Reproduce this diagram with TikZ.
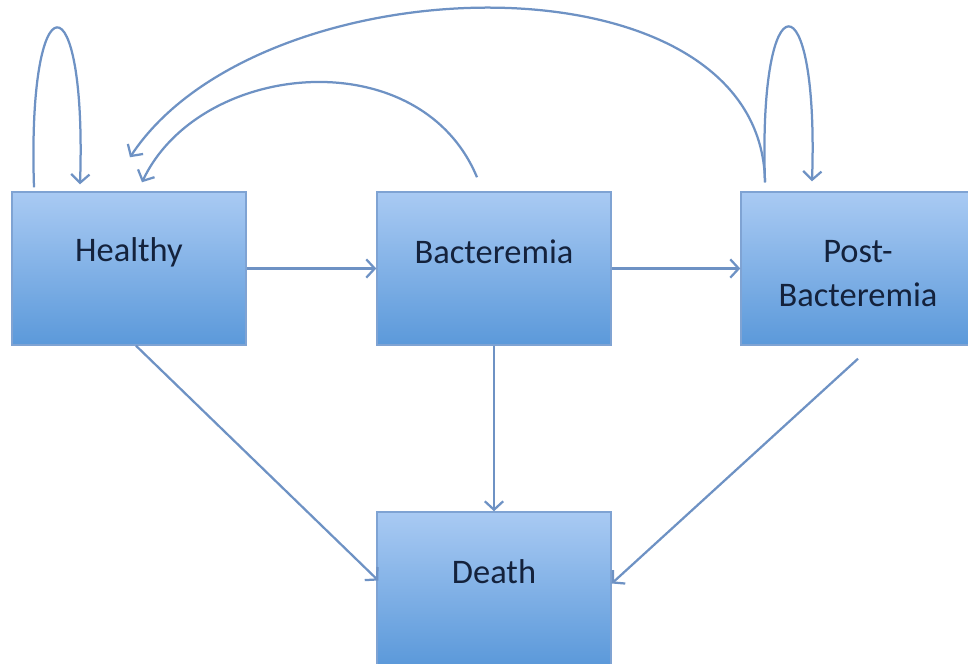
\documentclass[tikz,border=0pt]{standalone}
\usepackage{fontspec}
\setmainfont{Carlito}
\usepackage{xcolor}
\usetikzlibrary{arrows.meta, calc}

\definecolor{boxtop}{HTML}{A9CAF3}
\definecolor{boxbot}{HTML}{5B99DA}
\definecolor{boxline}{HTML}{7FA3D3}
\definecolor{arrowblue}{HTML}{6E92C4}
\definecolor{textnavy}{HTML}{14223C}

\begin{document}
\begin{tikzpicture}[x=0.025cm, y=-0.025cm,
  state/.style={draw=boxline, line width=1pt, top color=boxtop, bottom color=boxbot,
    minimum width=5.85cm, minimum height=3.825cm, inner sep=0pt},
  lbl/.style={font=\fontsize{24.5}{30.6}\selectfont, text=textnavy, align=center},
  link/.style={draw=arrowblue, line width=1.6pt,
    -{Straight Barb[length=6pt, width=13pt, line width=1.6pt]}}]
  \useasboundingbox (0,0) rectangle (968,664);

  % states
  \node[state, label={[lbl, yshift=11.7pt]center:Healthy}] (healthy) at (129,268.5) {};
  \node[state, label={[lbl, yshift=11.7pt]center:Bacteremia}] (bact) at (494,268.5) {};
  \node[state, label={[lbl, yshift=-3.6pt]center:Post-\\Bacteremia}] (post) at (858,268.5) {};
  \node[state, label={[lbl, yshift=11.7pt]center:Death}] (death) at (494,588.5) {};

  % forward transitions
  \draw[link] (healthy.east) -- (bact.west);
  \draw[link] (bact.east) -- (post.west);
  \draw[link] (bact.south) -- (death.north);
  \draw[link] ($(healthy.south)+(7,0)$) -- ($(death.west)+(2,-8)$);
  \draw[link] ($(post.south)+(0,13)$) -- ($(death.east)+(0,-5)$);

  % self loops
  \draw[link] ($(healthy.north)+(-95,-4)$) .. controls (27,-25) and (87,-25) .. ($(healthy.north)+(-49,-7)$);
  \draw[link] ($(post.north)+(-93,-9)$) .. controls (758,-25) and (819,-25) .. ($(post.north)+(-46,-10)$);

  % back to healthy
  \draw[link] ($(bact.north)+(-17,-14)$) .. controls (420,40) and (200,60) .. ($(healthy.north)+(13,-9)$);
  \draw[link] ($(post.north)+(-93,-9)$) .. controls (762,-52) and (260,-40) .. ($(healthy.north)+(1,-34)$);
\end{tikzpicture}
\end{document}
